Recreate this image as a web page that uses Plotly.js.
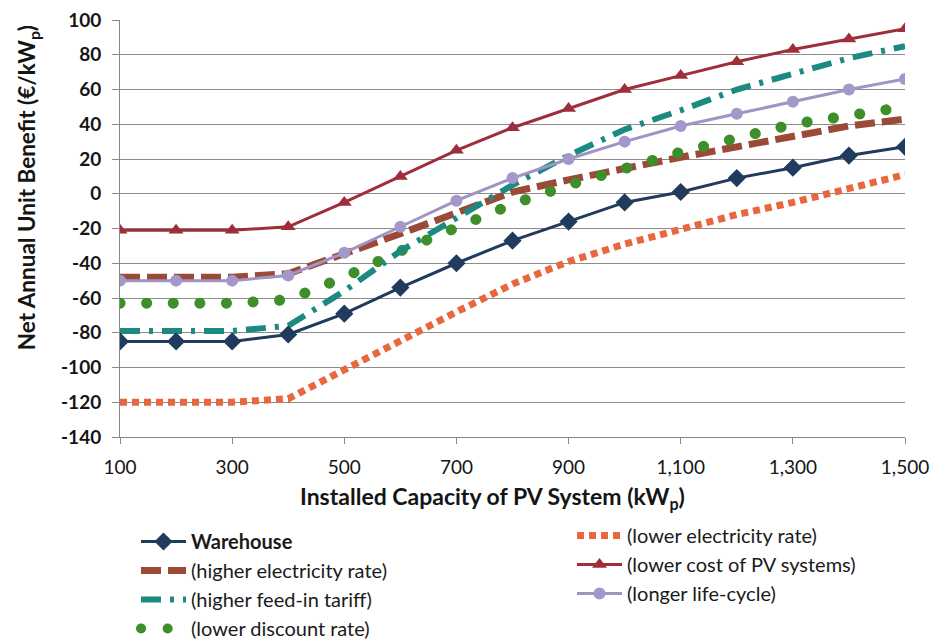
<!DOCTYPE html>
<html>
<head>
<meta charset="utf-8">
<script src="https://cdn.plot.ly/plotly-3.0.1.min.js"></script>
<style>
html, body { margin: 0; padding: 0; background: #ffffff; }
#chart { width: 945px; height: 641px; }
path.js-line[style*="rgb(62, 142, 44)"] { stroke-linecap: round; }
</style>
</head>
<body>
<div id="chart"></div>
<script>
// Data
const capacity = [100, 200, 300, 400, 500, 600, 700, 800, 900, 1000, 1100, 1200, 1300, 1400, 1500];
const warehouse       = [-85, -85, -85, -81, -69, -54, -40, -27, -16, -5, 1, 9, 15, 22, 27];
const higherElecRate  = [-48, -48, -48, -46, -35, -23, -11, 1, 8, 15, 21, 27, 33, 39, 43];
const higherFeedIn    = [-79, -79, -79, -76, -56, -33, -14, 5, 22, 37, 48, 60, 69, 78, 85];
const lowerDiscount   = [-63, -63, -63, -61, -48, -33, -19, -6, 5, 15, 24, 32, 40, 45, 50];
const lowerElecRate   = [-120, -120, -120, -118, -101, -84, -68, -52, -39, -29, -20, -12, -5, 3, 11];
const lowerCostPV     = [-21, -21, -21, -19, -5, 10, 25, 38, 49, 60, 68, 76, 83, 89, 95];
const longerLifeCycle = [-50, -50, -50, -47, -34, -19, -4, 9, 20, 30, 39, 46, 53, 60, 66];

const seriesNames = ['<b>Warehouse</b>', '(higher electricity rate)', '(higher feed-in tariff)', '(lower discount rate)',
                     '(lower electricity rate)', '(lower cost of PV systems)', '(longer life-cycle)'];
const xTickVals = [100, 300, 500, 700, 900, 1100, 1300, 1500];
const xTickText = ['100', '300', '500', '700', '900', '1,100', '1,300', '1,500'];
const yTickVals = [100, 80, 60, 40, 20, 0, -20, -40, -60, -80, -100, -120, -140];
const yTickText = ['100', '80', '60', '40', '20', '0', '-20', '-40', '-60', '-80', '-100', '-120', '-140'];
const xTitle = '<b>Installed Capacity of PV System (kW<sub>p</sub>)</b>';
const yTitle = '<b>Net Annual Unit Benefit (€/kW<sub>p</sub>)</b>';

const FONT = 'Lato, "Open Sans", "Noto Sans", sans-serif';

const traces = [
  { x: capacity, y: higherElecRate, name: seriesNames[1], mode: 'lines', legend: 'legend', legendrank: 2,
    line: { color: '#9b4a38', width: 7, dash: '20px,7px' } },
  { x: capacity, y: lowerDiscount, name: seriesNames[3], mode: 'lines', legend: 'legend', legendrank: 4,
    line: { color: '#3e8e2c', width: 11, dash: '0.1px,26.5px' } },
  { x: capacity, y: higherFeedIn, name: seriesNames[2], mode: 'lines', legend: 'legend', legendrank: 3,
    line: { color: '#1c8a80', width: 6, dash: '20px,9px,4px,9px' } },
  { x: capacity, y: lowerElecRate, name: seriesNames[4], mode: 'lines', legend: 'legend2', legendrank: 1,
    line: { color: '#e8673e', width: 7, dash: '7px,5px' } },
  { x: capacity, y: longerLifeCycle, name: seriesNames[6], mode: 'lines+markers', legend: 'legend2', legendrank: 3,
    line: { color: '#a093c6', width: 3 }, marker: { symbol: 'circle', size: 12, color: '#a497c9' } },
  { x: capacity, y: lowerCostPV, name: seriesNames[5], mode: 'lines+markers', legend: 'legend2', legendrank: 2,
    line: { color: '#9e2f3a', width: 3 }, marker: { symbol: 'triangle-up', size: 13, color: '#9e2f3a' } },
  { x: capacity, y: warehouse, name: seriesNames[0], mode: 'lines+markers', legend: 'legend', legendrank: 1,
    line: { color: '#213b5e', width: 3 }, marker: { symbol: 'diamond', size: 14, color: '#213b5e' } }
];

const legendCommon = {
  orientation: 'v', xanchor: 'left', yanchor: 'top', xref: 'paper', yref: 'container',
  font: { family: FONT, size: 20, color: '#1a1a1a' },
  bgcolor: 'rgba(0,0,0,0)', itemwidth: 45, tracegroupgap: 0,
  traceorder: 'normal', itemclick: false
};

const layout = {
  width: 945, height: 641,
  paper_bgcolor: '#ffffff', plot_bgcolor: '#ffffff',
  margin: { l: 120, r: 40, t: 20, b: 204 },
  showlegend: true,
  legend: Object.assign({}, legendCommon, { x: 16 / 785, y: 1 - 522 / 641 }),
  legend2: Object.assign({}, legendCommon, { x: 452 / 785, y: 1 - 516 / 641 }),
  xaxis: {
    range: [100, 1500], tickvals: xTickVals, ticktext: xTickText,
    showgrid: false, zeroline: false, showline: true, linecolor: '#888', linewidth: 1,
    ticks: 'outside', ticklen: 6, tickcolor: '#888', ticklabelstandoff: 7,
    tickfont: { family: FONT, size: 19, color: '#151515' }
  },
  yaxis: {
    range: [-140, 100], tickvals: yTickVals, ticktext: yTickText,
    showgrid: true, gridcolor: '#8c8c8c', gridwidth: 1,
    zeroline: false, showline: true, linecolor: '#888', linewidth: 1,
    ticks: 'outside', ticklen: 7, tickcolor: '#888', ticklabelstandoff: 7,
    tickfont: { family: FONT, size: 19, color: '#151515', weight: 'bold' }
  },
  annotations: [
    { text: xTitle, xref: 'paper', yref: 'paper', x: 0.475, y: -0.144, xanchor: 'center', yanchor: 'middle',
      showarrow: false, font: { family: FONT, size: 23, color: '#151515' } },
    { text: yTitle, xref: 'paper', yref: 'paper', x: -0.117, y: 0.597, xanchor: 'center', yanchor: 'middle',
      textangle: -90, showarrow: false, font: { family: FONT, size: 22.5, color: '#151515' } }
  ]
};

Plotly.newPlot('chart', traces, layout, { displayModeBar: false, staticPlot: true });
</script>
</body>
</html>
